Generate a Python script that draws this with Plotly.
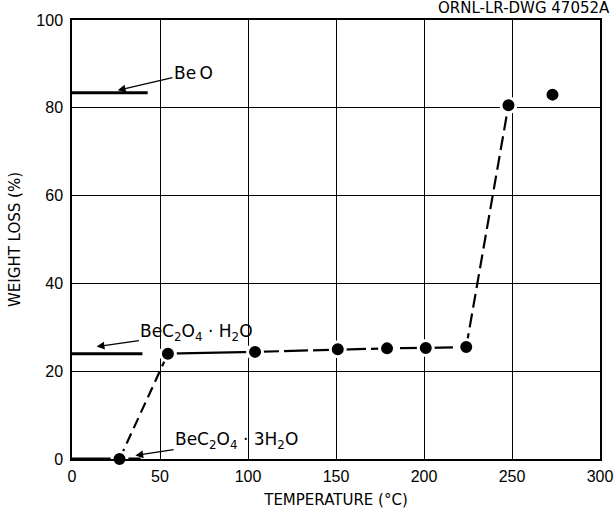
import plotly.graph_objects as go

# Measured weight loss of beryllium oxalate trihydrate versus temperature
temperature = [27, 54.5, 104, 151, 179, 201, 224, 248, 273]
weight_loss = [0, 24.0, 24.4, 25.0, 25.2, 25.3, 25.5, 80.6, 83.0]

# Theoretical weight-loss levels for each compound
NB = "\u00a0"
ref_names = [
    "Be\u2009O",
    "BeC<sub>2</sub>O<sub>4</sub>" + NB + "·" + NB + "H<sub>2</sub>O",
    "BeC<sub>2</sub>O<sub>4</sub>" + NB + "·" + NB + "3H<sub>2</sub>O",
]
ref_levels = [83.4, 24.0, 0.0]
ref_extent = [43, 40, 39]

FONT = "Liberation Sans"
LABEL_FONT = "DejaVu Sans"
fig = go.Figure()

# reference level bars
for lvl, ext in zip(ref_levels, ref_extent):
    fig.add_trace(go.Scatter(x=[0, ext], y=[lvl, lvl], mode="lines",
                             line=dict(color="black", width=3), showlegend=False,
                             cliponaxis=False))

# dashed rise from trihydrate to monohydrate
fig.add_trace(go.Scatter(x=temperature[0:2], y=weight_loss[0:2], mode="lines",
                         line=dict(color="black", width=2.2, dash="11px,6px"), showlegend=False))
# plateau of the monohydrate
fig.add_trace(go.Scatter(x=temperature[1:3], y=weight_loss[1:3], mode="lines",
                         line=dict(color="black", width=2.2), showlegend=False))
fig.add_trace(go.Scatter(x=temperature[2:7], y=weight_loss[2:7], mode="lines",
                         line=dict(color="black", width=2.2, dash="24px,5px"), showlegend=False))
# decomposition to the oxide
fig.add_trace(go.Scatter(x=temperature[6:8], y=weight_loss[6:8], mode="lines",
                         line=dict(color="black", width=2.2, dash="14px,6px"), showlegend=False))
# measured points
fig.add_trace(go.Scatter(x=temperature, y=weight_loss, mode="markers",
                         marker=dict(color="black", size=15, line=dict(color="white", width=3)),
                         showlegend=False, cliponaxis=False))

# labels with arrows pointing to their level bars (head x, head y, label x, label y)
labels = [
    (ref_names[0], 26, ref_levels[0] + 0.6, 69, 88.0),
    (ref_names[1], 14, ref_levels[1] + 1.6, 71, 28.8),
    (ref_names[2], 36, ref_levels[2] + 0.8, 93.5, 4.3),
]
for text, hx, hy, tx, ty in labels:
    fig.add_annotation(x=hx, y=hy, ax=tx, ay=ty, axref="x", ayref="y",
                       showarrow=True, arrowhead=2, arrowsize=1.2, arrowwidth=1.3,
                       arrowcolor="black", text=text, standoff=0,
                       font=dict(family=LABEL_FONT, size=17, color="black"))

fig.add_annotation(xref="paper", yref="paper", x=1.023, y=1.052, text="ORNL-LR-DWG 47052A",
                   showarrow=False, xanchor="right", yanchor="top",
                   font=dict(family=LABEL_FONT, size=15, color="black"))

axis_common = dict(showline=True, linecolor="black", linewidth=1.5, mirror=True,
                   showgrid=True, gridcolor="black", gridwidth=1, zeroline=False,
                   automargin=False,
                   ticks="", tickfont=dict(family=FONT, size=16, color="black"))
fig.update_xaxes(range=[0, 300], dtick=50, ticklabelstandoff=2,
                 title=dict(text="TEMPERATURE (°C)", standoff=11,
                            font=dict(family=LABEL_FONT, size=15, color="black")), **axis_common)
fig.update_yaxes(range=[0, 100], dtick=20, ticklabelstandoff=4,
                 title=dict(text="WEIGHT LOSS (%)", standoff=12,
                            font=dict(family=LABEL_FONT, size=15, color="black")), **axis_common)

fig.update_layout(width=615, height=513, margin=dict(l=72, r=15, t=20, b=54),
                  plot_bgcolor="white", paper_bgcolor="white")
fig.write_html("out.html")
